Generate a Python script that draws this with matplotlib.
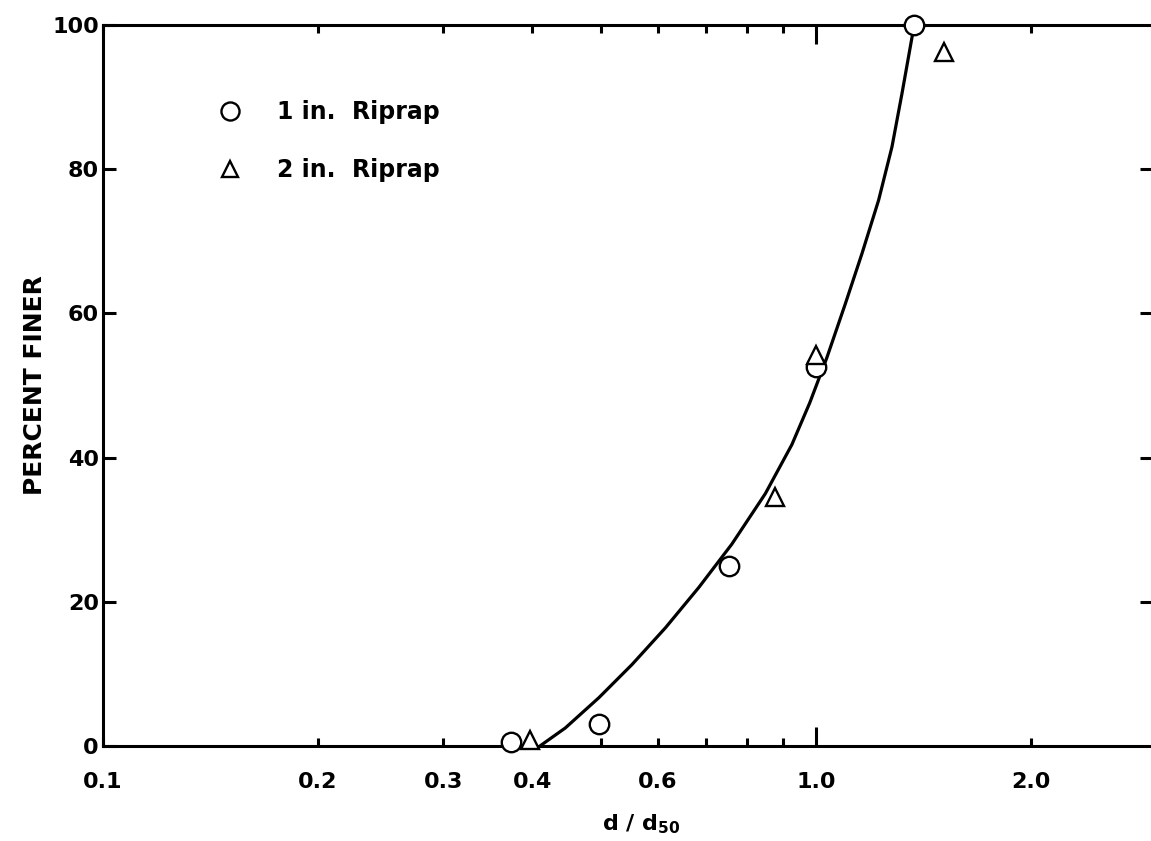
import matplotlib
matplotlib.use("Agg")
import matplotlib.pyplot as plt
from matplotlib.lines import Line2D
from matplotlib.ticker import FixedLocator, FixedFormatter

# ---- data ----
riprap1_x = [0.374, 0.496, 0.754, 1.0, 1.373]
riprap1_y = [0.6, 3.0, 25.0, 52.5, 100.0]

riprap2_x = [0.397, 0.876, 1.0, 1.512]
riprap2_y = [0.8, 34.5, 54.2, 96.2]

curve_x = [0.41, 0.445, 0.496, 0.552, 0.615, 0.685, 0.762, 0.849, 0.925,
           0.98, 1.036, 1.099, 1.16, 1.224, 1.278, 1.32, 1.364, 1.373]
curve_y = [0.0, 2.5, 6.7, 11.3, 16.4, 22.0, 28.0, 35.0, 41.8,
           47.6, 53.9, 61.3, 68.3, 75.7, 83.1, 90.5, 98.4, 100.0]

x_minor_ticks = [0.1, 0.2, 0.3, 0.4, 0.5, 0.6, 0.7, 0.8, 0.9, 2.0]
x_minor_labels = ["0.1", "0.2", "0.3", "0.4", "", "0.6", "", "", "", "2.0"]
x_major_ticks = [1.0]
x_major_labels = ["1.0"]
y_ticks = [0, 20, 40, 60, 80, 100]
y_labels = ["0", "20", "40", "60", "80", "100"]
y_right_ticks = [20, 40, 60, 80]

legend_labels = ["1 in.  Riprap", "2 in.  Riprap"]

# ---- figure ----
plt.rcParams['font.family'] = ['DejaVu Sans']
W, H = 1151, 841
fig = plt.figure(figsize=(W / 100, H / 100), dpi=100)
fig.patch.set_facecolor("white")
ax = fig.add_axes([103 / W, 1 - 746 / H, 1 - 103 / W, (746 - 25) / H])

ax.set_xscale("log")
ax.set_xlim(0.1, 2.95)
ax.set_ylim(0, 100)

ax.plot(curve_x, curve_y, color="black", lw=2.3, solid_capstyle="butt",
        solid_joinstyle="round", zorder=3)
ax.plot(riprap1_x, riprap1_y, linestyle="none", marker="o", ms=14, mfc="white",
        mec="black", mew=1.7, clip_on=False, zorder=5)
ax.plot(riprap2_x, riprap2_y, linestyle="none", marker="^", ms=13, mfc="white",
        mec="black", mew=1.7, clip_on=False, zorder=5)

# spines
for s in ["left", "bottom", "top"]:
    ax.spines[s].set_linewidth(2.2)
    ax.spines[s].set_color("black")
ax.spines["right"].set_visible(False)

# x ticks
ax.xaxis.set_major_locator(FixedLocator(x_major_ticks))
ax.xaxis.set_major_formatter(FixedFormatter(x_major_labels))
ax.xaxis.set_minor_locator(FixedLocator(x_minor_ticks))
ax.xaxis.set_minor_formatter(FixedFormatter(x_minor_labels))
ax.tick_params(axis="x", which="both", direction="in", top=True, bottom=True,
               width=2.2, pad=19, labelsize=16, colors="black")
ax.tick_params(axis="x", which="minor", length=6)
ax.tick_params(axis="x", which="major", length=14)
for lab in ax.get_xticklabels(which="both"):
    lab.set_fontweight("bold")

# y ticks
ax.set_yticks(y_ticks)
ax.set_yticklabels(y_labels, fontweight="bold")
ax.tick_params(axis="y", which="major", direction="in", left=True, right=False,
               length=9, width=2.2, pad=3, labelsize=16)

# right-side y ticks (short dashes)
ax_r = ax.twinx()
ax_r.set_ylim(0, 100)
ax_r.set_yticks(y_right_ticks)
ax_r.set_yticklabels([])
ax_r.tick_params(axis="y", direction="in", length=8, width=2.2, right=True)
for s in ax_r.spines.values():
    s.set_visible(False)

ax.set_ylabel("PERCENT FINER", fontsize=18, fontweight="bold", labelpad=4)
ax.set_xlabel(r"d / d$_{\mathbf{50}}$", fontsize=16, fontweight="bold")
ax.xaxis.set_label_coords((641 - 103) / (W - 103), -(812 - 746) / (746 - 25),
                          transform=ax.transAxes)

# legend
handles = [
    Line2D([], [], linestyle="none", marker="o", ms=13, mfc="white", mec="black", mew=1.7),
    Line2D([], [], linestyle="none", marker="^", ms=12, mfc="white", mec="black", mew=1.7),
]
leg = ax.legend(handles, legend_labels, loc="center left",
                bbox_to_anchor=((218 - 103) / (W - 103), 1 - (141 - 25) / (746 - 25)),
                frameon=False, handlelength=1.0, handletextpad=1.5,
                labelspacing=1.45, borderpad=0, borderaxespad=0,
                prop={"size": 17, "weight": "bold"})

fig.savefig("out.png", dpi=100, facecolor="white")
